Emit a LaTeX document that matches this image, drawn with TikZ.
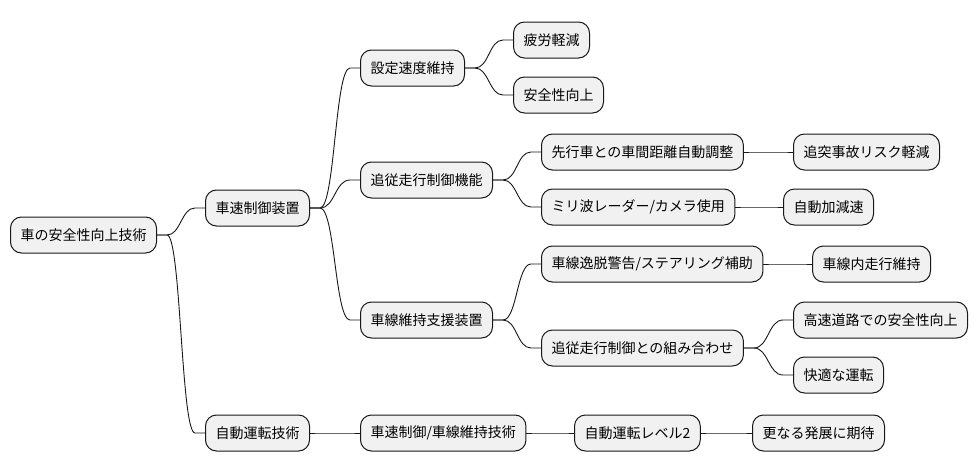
\documentclass[tikz,border=0pt]{standalone}
\usepackage{fontspec}
\setmainfont{Noto Sans CJK JP}
\usetikzlibrary{calc}
\definecolor{nodefill}{HTML}{F1F1F1}
\definecolor{nodeline}{HTML}{181818}
\begin{document}
\begin{tikzpicture}[x=1pt,y=-1pt,
  mm/.style={draw=nodeline,fill=nodefill,line width=1pt,rounded corners=11pt,
    minimum height=36pt,inner xsep=10pt,inner ysep=0pt,anchor=west,
    font=\fontsize{14}{16}\selectfont,text=black},
  link/.style={draw=nodeline,line width=0.9pt}]
\useasboundingbox (0,0) rectangle (978,471);
\node[mm] (root) at (10,235) {車の安全性向上技術};
\node[mm] (a) at (205,208) {車速制御装置};
\node[mm] (b) at (205,433) {自動運転技術};
\node[mm] (a1) at (360,68) {設定速度維持};
\node[mm] (a2) at (360,180) {追従走行制御機能};
\node[mm] (a3) at (360,320) {車線維持支援装置};
\node[mm] (b1) at (360,433) {車速制御/車線維持技術};
\node[mm] (a11) at (513,40) {疲労軽減};
\node[mm] (a12) at (513,95) {安全性向上};
\node[mm] (a21) at (541,152) {先行車との車間距離自動調整};
\node[mm] (a22) at (541,207) {ミリ波レーダー/カメラ使用};
\node[mm] (a211) at (793,152) {追突事故リスク軽減};
\node[mm] (a221) at (783,207) {自動加減速};
\node[mm] (a31) at (541,264) {車線逸脱警告/ステアリング補助};
\node[mm] (a32) at (541,348) {追従走行制御との組み合わせ};
\node[mm] (a311) at (812,264) {車線内走行維持};
\node[mm] (a321) at (793,320) {高速道路での安全性向上};
\node[mm] (a322) at (793,375) {快適な運転};
\node[mm] (b11) at (574,433) {自動運転レベル2};
\node[mm] (b111) at (752,433) {更なる発展に期待};
\foreach \pa/\ch in {root/a,root/b,a/a1,a/a2,a/a3,b/b1,a1/a11,a1/a12,a2/a21,a2/a22,
  a21/a211,a22/a221,a3/a31,a3/a32,a31/a311,a32/a321,a32/a322,b1/b11,b11/b111}{
  \coordinate (s1) at ($(\pa.east)+(10,0)$);
  \coordinate (t1) at ($(\ch.west)-(10,0)$);
  \draw[link] let \p1=(s1), \p2=(t1) in
    (\pa.east) -- (s1) .. controls ({(\x1+\x2)/2},\y1) and ({(\x1+\x2)/2},\y2) .. (t1) -- (\ch.west);
}
\end{tikzpicture}
\end{document}
